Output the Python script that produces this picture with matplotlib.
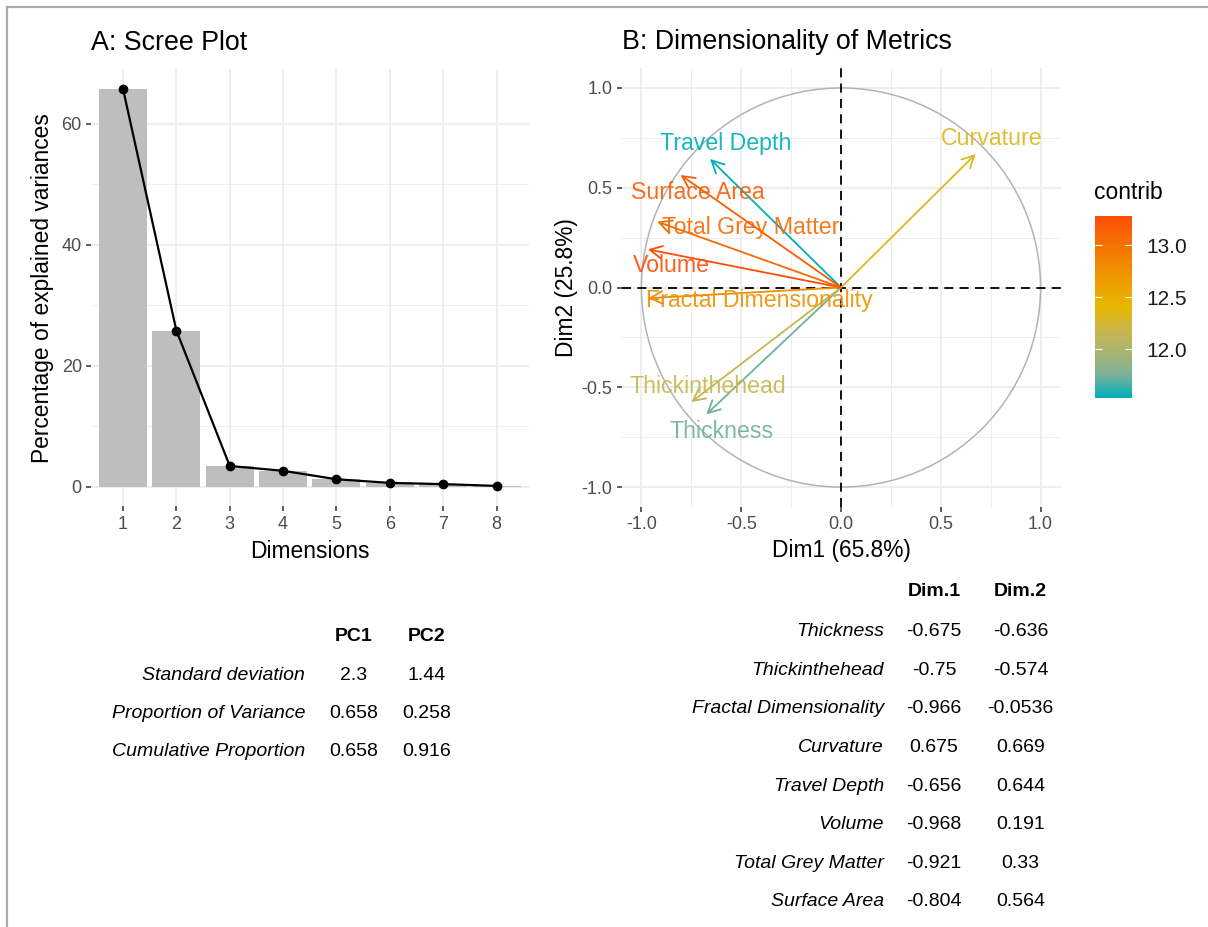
import numpy as np
import matplotlib
matplotlib.use("Agg")
import matplotlib.pyplot as plt
from matplotlib.colors import LinearSegmentedColormap, Normalize
from matplotlib.patches import Circle
from matplotlib.lines import Line2D

plt.rcParams['font.family'] = ['Liberation Sans', 'DejaVu Sans']

# ---- data ----
dims = [1, 2, 3, 4, 5, 6, 7, 8]
explained = [65.8, 25.8, 3.4, 2.6, 1.2, 0.6, 0.4, 0.1]

pc_rows = ["Standard deviation", "Proportion of Variance", "Cumulative Proportion"]
pc1 = [2.3, 0.658, 0.658]
pc2 = [1.44, 0.258, 0.916]

metrics = ["Thickness", "Thickinthehead", "Fractal Dimensionality", "Curvature",
           "Travel Depth", "Volume", "Total Grey Matter", "Surface Area"]
dim1 = [-0.675, -0.75, -0.966, 0.675, -0.656, -0.968, -0.921, -0.804]
dim2 = [-0.636, -0.574, -0.0536, 0.669, 0.644, 0.191, 0.33, 0.564]
contrib = [11.73, 12.17, 12.77, 12.32, 11.53, 13.28, 13.06, 13.16]
# where the (repelled) labels ended up
label_x = [-0.597, -0.665, -0.409, 0.753, -0.578, -0.852, -0.452, -0.719]
label_y = [-0.724, -0.496, -0.067, 0.745, 0.722, 0.108, 0.302, 0.476]

W, H = 1208, 927
fig = plt.figure(figsize=(W / 100, H / 100), dpi=100)

def fx(x):
    return x / W

def fy(y):
    return 1 - y / H

grid_major = '#EBEBEB'
tick_col = '#4D4D4D'

# frame of the screenshot
fig.add_artist(Line2D([fx(7), 1], [fy(7), fy(7)], color='#ABABAB', lw=1.6))
fig.add_artist(Line2D([fx(7), fx(7)], [fy(7), 0], color='#ABABAB', lw=1.6))


def style_axes(ax):
    for s in ax.spines.values():
        s.set_visible(False)
    ax.tick_params(axis='both', which='major', length=3.6, width=1.1, color='#333333',
                   labelcolor=tick_col, labelsize=13, pad=3)
    ax.tick_params(axis='both', which='minor', length=0)
    ax.set_axisbelow(True)


# ---- A: scree plot ----
ax1 = fig.add_axes([fx(91), fy(506.4), (528.6 - 91) / W, (506.4 - 69) / H])
style_axes(ax1)
ax1.bar(dims, explained, width=0.9, color='#BEBEBE', zorder=2)
ax1.plot(dims, explained, color='black', lw=1.6, marker='o', ms=6, zorder=3)
ax1.set_xlim(0.4, 8.6)
ax1.set_ylim(-3.29, 69.09)
ax1.set_xticks(dims)
ax1.set_yticks([0, 20, 40, 60])
ax1.set_yticks([10, 30, 50], minor=True)
ax1.grid(which='major', color=grid_major, lw=1.2)
ax1.grid(which='minor', axis='y', color=grid_major, lw=0.6)

fig.text(fx(91), fy(43), "A: Scree Plot", fontsize=19.3, va='center', ha='left')
fig.text(fx(43), fy(287.7), "Percentage of explained variances", fontsize=16.4,
         rotation=90, va='center', ha='center')
fig.text(fx(309.8), fy(551), "Dimensions", fontsize=16.4, va='center', ha='center')

# ---- B: variable correlation circle ----
# teal -> yellow -> red, with extra stops so it blends like ggplot's Lab gradient
cmap = LinearSegmentedColormap.from_list('contrib', [
    (0.0, '#00AFBB'), (0.125, '#7BB198'), (0.25, '#A8B474'), (0.375, '#CAB64C'),
    (0.5, '#E7B800'), (0.75, '#F18700'), (1.0, '#FC4E07')])
norm = Normalize(vmin=min(contrib), vmax=max(contrib))

ax2 = fig.add_axes([fx(621.5), fy(507), 439 / W, 439 / H])
style_axes(ax2)
ax2.set_xlim(-1.1, 1.1)
ax2.set_ylim(-1.1, 1.1)
ticks = [-1.0, -0.5, 0.0, 0.5, 1.0]
ax2.set_xticks(ticks)
ax2.set_yticks(ticks)
ax2.set_xticklabels(["-1.0", "-0.5", "0.0", "0.5", "1.0"])
ax2.set_yticklabels(["-1.0", "-0.5", "0.0", "0.5", "1.0"])
ax2.set_xticks([-0.75, -0.25, 0.25, 0.75], minor=True)
ax2.set_yticks([-0.75, -0.25, 0.25, 0.75], minor=True)
ax2.grid(which='major', color=grid_major, lw=1.2)
ax2.grid(which='minor', color=grid_major, lw=0.6)

ax2.add_patch(Circle((0, 0), 1.0, fill=False, edgecolor='#B3B3B3', lw=1.1, zorder=2))
ax2.axhline(0, color='black', lw=1.3, dashes=(5, 3.5), zorder=2)
ax2.axvline(0, color='black', lw=1.3, dashes=(5, 3.5), zorder=2)

for i in range(len(metrics)):
    c = cmap(norm(contrib[i]))
    ax2.annotate('', xy=(dim1[i], dim2[i]), xytext=(0, 0),
                 arrowprops=dict(arrowstyle='->,head_length=0.55,head_width=0.28',
                                 color=c, lw=1.3, shrinkA=0, shrinkB=0,
                                 mutation_scale=16), zorder=3)
    ax2.text(label_x[i], label_y[i], metrics[i], color=c, fontsize=16.7,
             ha='center', va='center', alpha=0.9, zorder=4)

fig.text(fx(622), fy(42), "B: Dimensionality of Metrics", fontsize=19.3, va='center', ha='left')
fig.text(fx(841), fy(551), "Dim1 (65.8%)", fontsize=16.4, va='center', ha='center')
fig.text(fx(566), fy(287.5), "Dim2 (25.8%)", fontsize=16.4, rotation=90,
         va='center', ha='center')

# colour bar legend
cax = fig.add_axes([fx(1095), fy(398), 37 / W, 182 / H])
cb = fig.colorbar(plt.cm.ScalarMappable(norm=norm, cmap=cmap), cax=cax)
cb.outline.set_visible(False)
cb.set_ticks([12.0, 12.5, 13.0])
cb.set_ticklabels(["12.0", "12.5", "13.0"])
cax.yaxis.set_ticks_position('both')
cax.tick_params(direction='in', color='white', length=5, width=0.8,
                labelsize=15, labelcolor='#1A1A1A', pad=10)
cax.tick_params(labelleft=False, labelright=True)
fig.text(fx(1094), fy(192.7), "contrib", fontsize=16.5, va='center', ha='left')

# ---- tables ----
fig.text(fx(353.3), fy(636.7), "PC1", fontsize=14, fontweight='bold', ha='center', va='center')
fig.text(fx(426.7), fy(636.7), "PC2", fontsize=14, fontweight='bold', ha='center', va='center')
for i in range(len(pc_rows)):
    y = 675 + i * 38.3
    fig.text(fx(305), fy(y), pc_rows[i], fontsize=14, style='italic', ha='right', va='center')
    fig.text(fx(353.3), fy(y), '{:.3g}'.format(pc1[i]), fontsize=14, ha='center', va='center')
    fig.text(fx(426.7), fy(y), '{:.3g}'.format(pc2[i]), fontsize=14, ha='center', va='center')

fig.text(fx(934), fy(591.7), "Dim.1", fontsize=14, fontweight='bold', ha='center', va='center')
fig.text(fx(1020.7), fy(591.7), "Dim.2", fontsize=14, fontweight='bold', ha='center', va='center')
for i in range(len(metrics)):
    y = 631.7 + i * 38.6
    fig.text(fx(884), fy(y), metrics[i], fontsize=14, style='italic', ha='right', va='center')
    fig.text(fx(934), fy(y), '{:.3g}'.format(dim1[i]), fontsize=14, ha='center', va='center')
    fig.text(fx(1020.7), fy(y), '{:.3g}'.format(dim2[i]), fontsize=14, ha='center', va='center')

fig.savefig("out.png", dpi=100, facecolor='white')
